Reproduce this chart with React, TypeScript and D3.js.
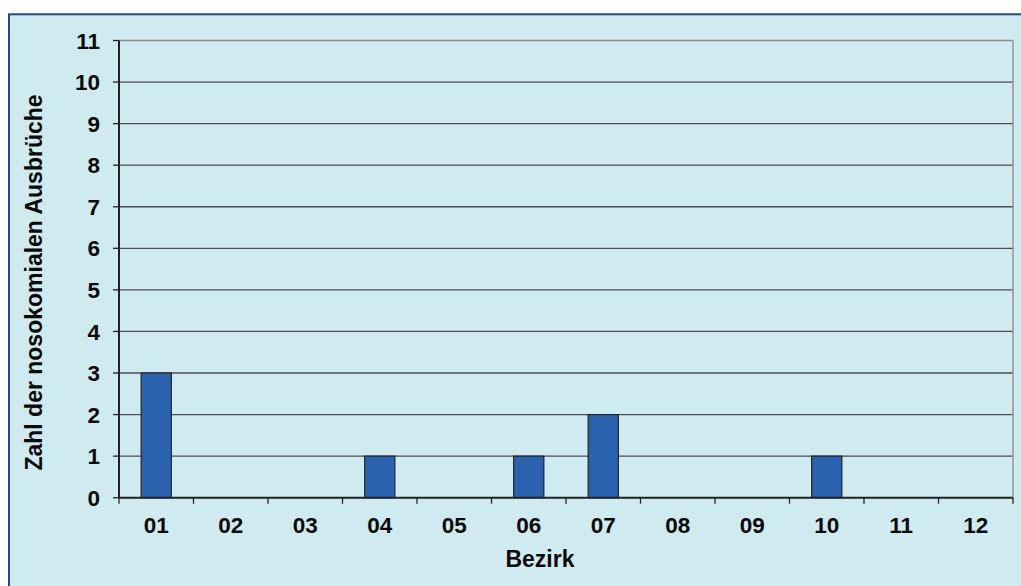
import React from "react";
import * as d3 from "d3";

const categories = ["01", "02", "03", "04", "05", "06", "07", "08", "09", "10", "11", "12"];
const values = [3, 0, 0, 1, 0, 1, 2, 0, 0, 1, 0, 0];
const yTicks = [0, 1, 2, 3, 4, 5, 6, 7, 8, 9, 10, 11];
const yTitle = "Zahl der nosokomialen Ausbrüche";
const xTitle = "Bezirk";

export default function App() {
  const W = 1021, H = 586;
  const left = 119, right = 1013, top = 40.5, bottom = 497.7;
  const x = d3.scaleBand<string>().domain(categories).range([left, right]).paddingInner(0).paddingOuter(0);
  const y = d3.scaleLinear().domain([0, 11]).range([bottom, top]);
  const bw = x.bandwidth() * 0.405;
  const font = "'Liberation Sans', Arial, sans-serif";
  const tickFs = 22.5;
  const titleFs = 23;
  return (
    <svg width={W} height={H} style={{ position: "absolute", left: 0, top: 0 }}>
      <rect x={0} y={0} width={W} height={H} fill="#ffffff" />
      <rect x={9} y={14.3} width={W} height={H} fill="#d0ebf0" stroke="#24488f" strokeWidth={2} />
      {yTicks.map((t) => (
        <g key={t}>
          {t > 0 && (
            <line x1={left} x2={right} y1={y(t)} y2={y(t)} stroke={t === 11 ? "#8a8a8a" : "#4a4f55"} strokeWidth={1.3} />
          )}
          <line x1={left - 6} x2={left} y1={y(t)} y2={y(t)} stroke="#222" strokeWidth={1.3} />
          <text x={100} y={y(t)} dy="0.36em" textAnchor="end" fontFamily={font} fontWeight="bold" fontSize={tickFs} fill="#0a0a0a">
            {t}
          </text>
        </g>
      ))}
      <line x1={right} x2={right} y1={top} y2={bottom} stroke="#8a8a8a" strokeWidth={1.3} />
      {categories.map((c, i) => (
        <rect
          key={c}
          x={x(c)! + x.bandwidth() / 2 - bw / 2}
          y={y(values[i])}
          width={bw}
          height={bottom - y(values[i])}
          fill="#2a62b0"
          stroke="#222"
          strokeWidth={1.2}
          opacity={values[i] > 0 ? 1 : 0}
        />
      ))}
      <line x1={left} x2={left} y1={top} y2={bottom} stroke="#222" strokeWidth={2} />
      <line x1={left} x2={right} y1={bottom} y2={bottom} stroke="#222" strokeWidth={2} />
      {[...categories.map((c) => x(c)!), right].map((px, i) => (
        <line key={i} x1={px} x2={px} y1={bottom} y2={bottom + 6} stroke="#222" strokeWidth={1.3} />
      ))}
      {categories.map((c) => (
        <text key={c} x={x(c)! + x.bandwidth() / 2} y={532.5} textAnchor="middle" fontFamily={font} fontWeight="bold" fontSize={tickFs} fill="#0a0a0a">
          {c}
        </text>
      ))}
      <text x={540} y={567} textAnchor="middle" fontFamily={font} fontWeight="bold" fontSize={titleFs} fill="#0a0a0a">
        {xTitle}
      </text>
      <text transform="translate(41.5,282.5) rotate(-90)" textAnchor="middle" fontFamily={font} fontWeight="bold" fontSize={titleFs} fill="#0a0a0a">
        {yTitle}
      </text>
    </svg>
  );
}
